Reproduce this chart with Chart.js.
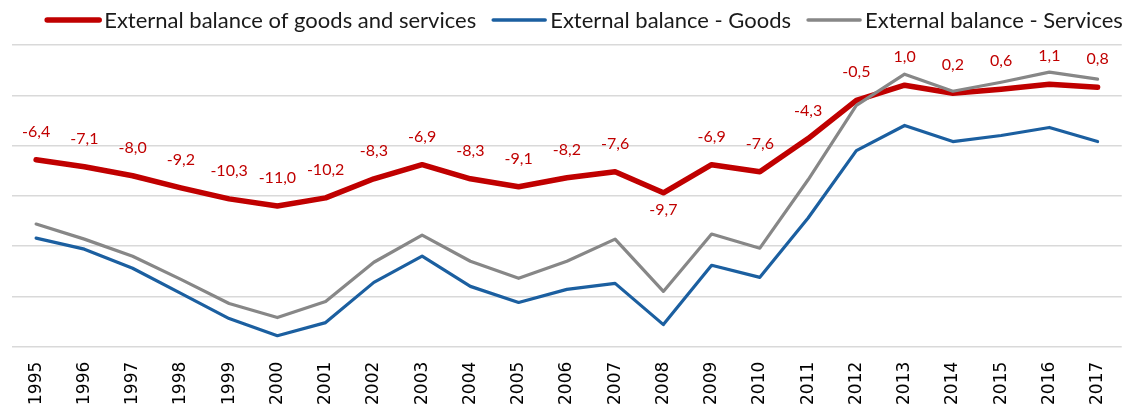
<!DOCTYPE html>
<html>
<head>
<meta charset="utf-8">
<script src="https://cdn.jsdelivr.net/npm/chart.js@4.4.1/dist/chart.umd.min.js"></script>
<style>
  html, body { margin: 0; padding: 0; background: #ffffff; overflow: hidden; }
  #wrap { width: 1133px; height: 412px; position: relative; }
</style>
</head>
<body>
<div id="wrap"><canvas id="c"></canvas></div>
<script>
// ---- Data ----
const years = ['1995','1996','1997','1998','1999','2000','2001','2002','2003','2004','2005','2006',
               '2007','2008','2009','2010','2011','2012','2013','2014','2015','2016','2017'];
const balanceGoodsServices = [-6.4,-7.1,-8.0,-9.2,-10.3,-11.0,-10.2,-8.3,-6.9,-8.3,-9.1,-8.2,
                              -7.6,-9.7,-6.9,-7.6,-4.3,-0.5,1.0,0.2,0.6,1.1,0.8];
const balanceGoods = [-14.2,-15.3,-17.2,-19.7,-22.2,-23.9,-22.6,-18.6,-16.0,-19.0,-20.6,-19.3,
                      -18.7,-22.8,-16.9,-18.1,-12.2,-5.5,-3.0,-4.6,-4.0,-3.2,-4.6];
const balanceServices = [-12.8,-14.3,-16.0,-18.3,-20.7,-22.1,-20.5,-16.6,-13.9,-16.5,-18.2,-16.5,
                         -14.3,-19.5,-13.8,-15.2,-8.4,-1.0,2.1,0.4,1.3,2.3,1.6];
const seriesNames = ['External balance of goods and services', 'External balance - Goods', 'External balance - Services'];
const yMin = -25, yMax = 5, yStep = 5;
const labelsBelowYears = ['2008'];

const RED = '#C00000', BLUE = '#1B5FA0', GRAY = '#878787';

function fmt(v) { return v.toFixed(1).replace('.', ','); }

const dataLabelPlugin = {
  id: 'dataLabels',
  afterDatasetsDraw(chart) {
    const ctx = chart.ctx;
    const meta = chart.getDatasetMeta(0);
    ctx.save();
    ctx.font = '16px Lato';
    ctx.fillStyle = RED;
    ctx.textAlign = 'center';
    ctx.textBaseline = 'alphabetic';
    meta.data.forEach((pt, i) => {
      const v = chart.data.datasets[0].data[i];
      const below = labelsBelowYears.includes(chart.data.labels[i]);
      const y = below ? pt.y + 22 : pt.y - 23;
      ctx.fillText(fmt(v), pt.x, y);
    });
    ctx.restore();
  }
};

const legendPlugin = {
  id: 'customLegend',
  afterDraw(chart) {
    const ctx = chart.ctx;
    const items = chart.data.datasets.map(d => ({ text: d.label, color: d.borderColor, lw: d.legendWidth }));
    ctx.save();
    ctx.font = '22px Lato';
    ctx.textBaseline = 'middle';
    const lineLen = 56, gapText = 3, gapItem = 15;
    let total = 0;
    items.forEach((it, i) => {
      it.w = ctx.measureText(it.text).width;
      total += lineLen + gapText + it.w + (i < items.length - 1 ? gapItem : 0);
    });
    let x = 584 - total / 2;
    const y = 20;
    items.forEach(it => {
      ctx.strokeStyle = it.color;
      ctx.lineWidth = it.lw;
      ctx.lineCap = 'round';
      ctx.beginPath();
      ctx.moveTo(x + 2, y);
      ctx.lineTo(x + lineLen - 2, y);
      ctx.stroke();
      ctx.fillStyle = '#1a1a1a';
      ctx.textAlign = 'left';
      ctx.fillText(it.text, x + lineLen + gapText, y + 1);
      x += lineLen + gapText + it.w + gapItem;
    });
    ctx.restore();
  }
};

new Chart(document.getElementById('c'), {
  type: 'line',
  data: {
    labels: years,
    datasets: [
      { label: seriesNames[0], data: balanceGoodsServices, borderColor: RED, backgroundColor: RED,
        borderWidth: 5.5, legendWidth: 5.5, order: 2 },
      { label: seriesNames[1], data: balanceGoods, borderColor: BLUE, backgroundColor: BLUE,
        borderWidth: 3.2, legendWidth: 3.5, order: 1 },
      { label: seriesNames[2], data: balanceServices, borderColor: GRAY, backgroundColor: GRAY,
        borderWidth: 3.2, legendWidth: 3.5, order: 0 }
    ]
  },
  options: {
    responsive: true,
    maintainAspectRatio: false,
    animation: false,
    devicePixelRatio: 1,
    layout: { padding: { top: 45, left: 12, right: -14, bottom: -8 } },
    elements: {
      point: { radius: 0, hoverRadius: 0 },
      line: { tension: 0, borderJoinStyle: 'round', borderCapStyle: 'round' }
    },
    plugins: {
      legend: { display: false },
      tooltip: { enabled: false },
      title: { display: false }
    },
    scales: {
      x: {
        offset: true,
        grid: { display: false, drawTicks: false },
        border: { display: false },
        ticks: {
          minRotation: 90, maxRotation: 90, autoSkip: false,
          padding: 15,
          color: '#000000',
          font: { family: 'DejaVu Sans', size: 17 }
        }
      },
      y: {
        min: yMin, max: yMax,
        grid: { color: '#D9D9D9', lineWidth: 1.5, drawTicks: false },
        border: { display: false },
        ticks: { display: false, stepSize: yStep }
      }
    }
  },
  plugins: [dataLabelPlugin, legendPlugin]
});
</script>
</body>
</html>
